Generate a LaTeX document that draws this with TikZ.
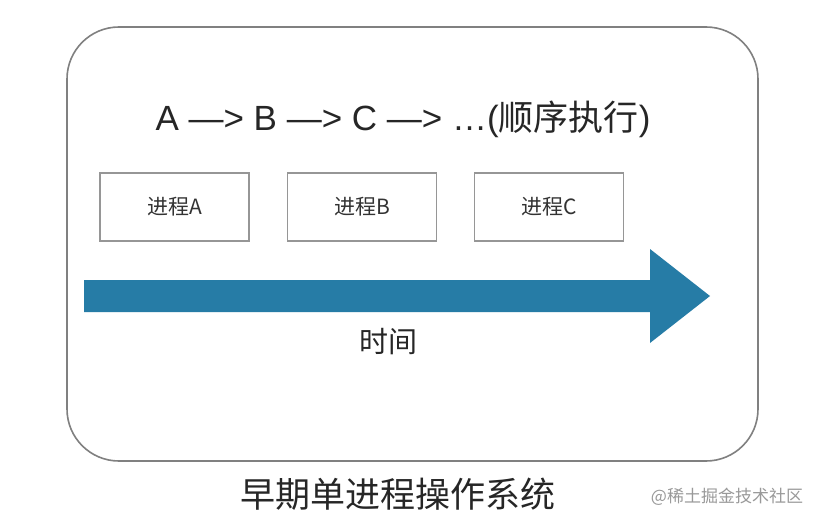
\documentclass[tikz,border=0pt]{standalone}
\usepackage{fontspec}
\setmainfont{Noto Sans CJK SC}
\newfontfamily\latinfont{Liberation Sans}
\definecolor{arrowblue}{RGB}{38,124,166}
\definecolor{boxgray}{RGB}{150,150,150}
\begin{document}
\begin{tikzpicture}[x=1pt,y=-1pt,
  procbox/.style={draw=boxgray,line width=1.8pt,minimum width=149pt,minimum height=68pt,inner sep=0pt,font=\fontsize{21}{24}\selectfont,text=black!80},
  lbl/.style={inner sep=0pt,text=black!85}]
\useasboundingbox (0,0) rectangle (824,527);
\fill[white] (0,0) rectangle (824,527);
\node[draw=black!50,line width=1.6pt,rounded corners=52pt,minimum width=691pt,minimum height=434pt,inner sep=0pt] (frame) at (412.5,244) {};
\node[lbl,font=\fontsize{35}{40}\selectfont] (seq) at (403,119) {{\latinfont A —> B —> C —> …(}顺序执行{\latinfont )}};
\node[procbox] (pa) at (174.5,207) {\raisebox{-2pt}{进程A}};
\node[procbox] (pb) at (362,207) {\raisebox{-2pt}{进程B}};
\node[procbox] (pc) at (549,207) {\raisebox{-2pt}{进程C}};
\fill[arrowblue] (84,280) -- (650,280) -- (650,249) -- (710,296) -- (650,343) -- (650,312) -- (84,312) -- cycle;
\coordinate (arrowtip) at (710,296);
\node[lbl,font=\fontsize{29}{34}\selectfont] (time) at (388,342) {时间};
\node[lbl,font=\fontsize{35}{40}\selectfont] (cap) at (398,494) {早期单进程操作系统};
\node[lbl,font=\fontsize{17}{20}\selectfont,text=black!40] (wm) at (727,497) {@稀土掘金技术社区};
\end{tikzpicture}
\end{document}
